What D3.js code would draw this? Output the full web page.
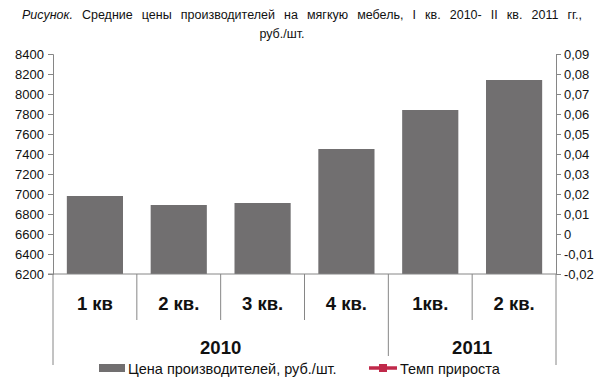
<!DOCTYPE html>
<html><head><meta charset="utf-8">
<script src="https://cdn.jsdelivr.net/npm/d3@7"></script>
<style>body{margin:0;background:#fff}svg{display:block;font-family:"Liberation Sans",Arial,sans-serif}</style>
</head><body>
<svg id="c" width="604" height="390"></svg>
<script>
const quarters = ["1 кв","2 кв.","3 кв.","4 кв.","1кв.","2 кв."];
const years = [{label:"2010", n:4},{label:"2011", n:2}];
const prices = [6980, 6890, 6910, 7450, 7840, 8140];
const leftTicks = [6200,6400,6600,6800,7000,7200,7400,7600,7800,8000,8200,8400];
const rightTicks = [-0.02,-0.01,0,0.01,0.02,0.03,0.04,0.05,0.06,0.07,0.08,0.09];
const seriesNames = ["Цена производителей, руб./шт.","Темп прироста"];

const svg = d3.select("#c");
const L = 53, R = 556, T = 54, B = 274;
const x = d3.scaleBand().domain(d3.range(quarters.length)).range([L, R]).paddingInner(0.33).paddingOuter(0.165);
const y = d3.scaleLinear().domain([6200, 8400]).range([B, T]);
const y2 = d3.scaleLinear().domain([-0.02, 0.09]).range([B, T]);
const axisCol = "#868686";

// title
const t1 = svg.append("text").attr("x", 302).attr("y", 19).attr("text-anchor","middle")
  .attr("font-size", 12.5).attr("fill","#111");
t1.append("tspan").attr("font-style","italic").text("Рисунок.");
t1.append("tspan").text(" Средние цены производителей на мягкую мебель, I кв. 2010- II кв. 2011 гг.,");
const w = t1.node().getComputedTextLength();
const words = "Рисунок. Средние цены производителей на мягкую мебель, I кв. 2010- II кв. 2011 гг.,".split(" ").length - 1;
t1.attr("word-spacing", (560 - w) / words);
svg.append("text").attr("x", 282).attr("y", 38).attr("text-anchor","middle")
  .attr("font-size", 12.5).attr("fill","#111").text("руб./шт.");

// bars
svg.append("g").selectAll("rect").data(prices).join("rect")
  .attr("x", (d,i) => x(i)).attr("width", x.bandwidth())
  .attr("y", d => y(d)).attr("height", d => B - y(d))
  .attr("fill", "#716f70");

// left axis
const ga = svg.append("g").attr("transform", `translate(${L},0)`)
  .call(d3.axisLeft(y).tickValues(leftTicks).tickSize(5).tickPadding(4).tickFormat(d3.format("d")));
ga.select(".domain").attr("stroke", axisCol);
ga.selectAll(".tick line").attr("stroke", axisCol);
ga.selectAll("text").attr("font-size", 13).attr("fill","#111").attr("font-family","Liberation Sans, Arial");

// right axis
const fmt = d => d === 0 ? "0" : d3.format(".2f")(d).replace(".", ",").replace("−","-");
const gb = svg.append("g").attr("transform", `translate(${R},0)`)
  .call(d3.axisRight(y2).tickValues(rightTicks).tickSize(5).tickPadding(3).tickFormat(fmt));
gb.select(".domain").attr("stroke", axisCol);
gb.selectAll(".tick line").attr("stroke", axisCol);
gb.selectAll("text").attr("font-size", 13).attr("fill","#111").attr("font-family","Liberation Sans, Arial");

// x axis baseline and category dividers
const edge = i => L + (R - L) * i / quarters.length;
svg.append("line").attr("x1", L - 5).attr("x2", R).attr("y1", B).attr("y2", B).attr("stroke", axisCol);
svg.append("g").selectAll("line").data(d3.range(quarters.length + 1)).join("line")
  .attr("x1", i => edge(i)).attr("x2", i => edge(i))
  .attr("y1", B).attr("y2", i => {
    if (i === 0 || i === quarters.length) return 365;
    let acc = 0; for (const yy of years) { acc += yy.n; if (acc === i) return 356; }
    return 320;
  }).attr("stroke", axisCol);

svg.append("g").selectAll("text").data(quarters).join("text")
  .attr("x", (d,i) => (edge(i) + edge(i+1)) / 2).attr("y", 310)
  .attr("text-anchor","middle").attr("font-size", 18.5).attr("font-weight","bold").attr("fill","#111")
  .text(d => d);

let acc = 0;
years.forEach(yy => {
  const cx = (edge(acc) + edge(acc + yy.n)) / 2;
  svg.append("text").attr("x", cx).attr("y", 354).attr("text-anchor","middle")
    .attr("font-size", 18.5).attr("font-weight","bold").attr("fill","#111").text(yy.label);
  acc += yy.n;
});

// legend
svg.append("rect").attr("x", 99).attr("y", 364).attr("width", 26).attr("height", 8).attr("fill", "#716f70");
svg.append("text").attr("x", 128).attr("y", 374).attr("font-size", 14.5).attr("fill","#111").text(seriesNames[0]);
svg.append("line").attr("x1", 369).attr("x2", 397).attr("y1", 368).attr("y2", 368).attr("stroke", "#c0294a").attr("stroke-width", 3.5);
svg.append("rect").attr("x", 379).attr("y", 364).attr("width", 8).attr("height", 8).attr("fill", "#c0294a");
svg.append("text").attr("x", 400).attr("y", 374).attr("font-size", 14.5).attr("fill","#111").text(seriesNames[1]);
</script>
</body></html>
